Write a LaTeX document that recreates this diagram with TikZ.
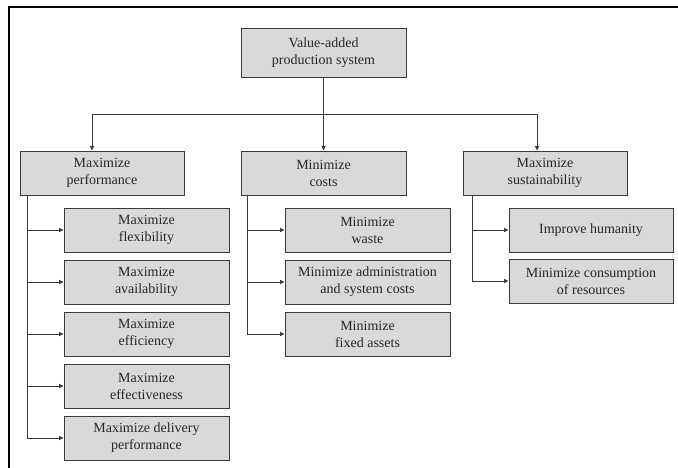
\documentclass[tikz,border=0pt]{standalone}
\usepackage{fontspec}
\setmainfont{Liberation Serif}
\usetikzlibrary{arrows.meta}
\definecolor{boxfill}{HTML}{D9D9D9}
\definecolor{boxline}{HTML}{3A3A3A}
\definecolor{conn}{HTML}{3A3A3A}
\begin{document}
\begin{tikzpicture}[x=1pt,y=-1pt,
  box/.style={draw=boxline,fill=boxfill,line width=0.9pt,align=center,inner sep=0pt,
    font=\fontsize{14}{17}\selectfont,text=black!85},
  lvl/.style={box,minimum width=164pt,minimum height=44pt},
  kid/.style={box,minimum width=165pt,minimum height=44pt},
  line/.style={draw=conn,line width=0.8pt},
  arr/.style={line,-{Triangle[length=4.5pt,width=4pt]}}]
\useasboundingbox (0,0) rectangle (678,468);
\draw[line width=2.2pt] (678,7) -- (9,7) -- (9,468);
% nodes
\node[box,minimum width=165pt,minimum height=49pt] (top) at (323.5,52.5) {Value-added\\production system};
\node[lvl] (L) at (102,173) {Maximize\\performance};
\node[lvl,minimum width=165pt] (M) at (323.5,173) {Minimize\\costs};
\node[lvl] (R) at (545,173) {Maximize\\sustainability};
% left children
\node[kid] (l1) at (146.5,230) {Maximize\\flexibility};
\node[kid] (l2) at (146.5,282) {Maximize\\availability};
\node[kid] (l3) at (146.5,334) {Maximize\\efficiency};
\node[kid] (l4) at (146.5,386) {Maximize\\effectiveness};
\node[kid] (l5) at (146.5,438) {Maximize delivery\\performance};
% middle children
\node[kid] (m1) at (367.5,230) {Minimize\\waste};
\node[kid] (m2) at (367.5,282) {Minimize administration\\and system costs};
\node[kid] (m3) at (367.5,334) {Minimize\\fixed assets};
% right children
\node[kid,minimum width=164pt] (r1) at (591,230) {Improve humanity};
\node[kid,minimum width=164pt] (r2) at (591,281) {Minimize consumption\\of resources};
% bus
\coordinate (bl) at (92,114);
\coordinate (br) at (537,114);
\draw[line] (bl) -- (br);
\draw[arr] (top.south) -- (M.north);
\draw[arr] (bl) -- (bl |- L.north);
\draw[arr] (br) -- (br |- R.north);
% branches
\coordinate (lv) at (27,195);
\coordinate (mv) at (247,195);
\coordinate (rv) at (472,195);
\foreach \c in {l1,l2,l3,l4,l5} \draw[arr] (lv) |- (\c.west);
\foreach \c in {m1,m2,m3} \draw[arr] (mv) |- (\c.west);
\foreach \c in {r1,r2} \draw[arr] (rv) |- (\c.west);
\end{tikzpicture}
\end{document}
